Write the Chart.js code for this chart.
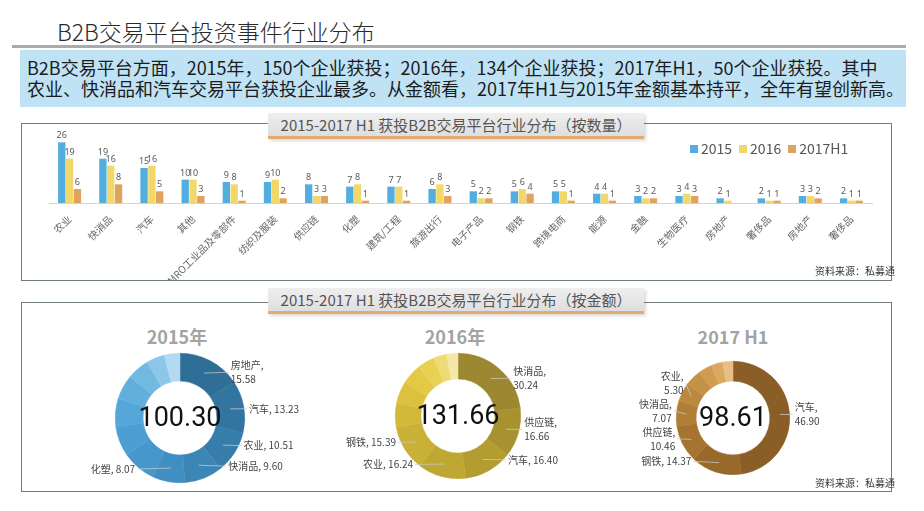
<!DOCTYPE html>
<html>
<head>
<meta charset="utf-8">
<script src="https://cdn.jsdelivr.net/npm/chart.js@4.4.0/dist/chart.umd.min.js"></script>
<style>
body { margin: 0; width: 924px; height: 511px; background: #fff; position: relative; overflow: hidden;
       font-family: "Noto Sans CJK SC", "Noto Sans", sans-serif; }
#title { position: absolute; left: 57px; top: 16px; font-size: 23px; font-weight: 300; line-height: 30px; color: #2a2a2a; }
#rule { position: absolute; left: 12px; top: 45px; width: 894px; height: 3px; background: #ababab; }
#intro { position: absolute; left: 20px; top: 50px; width: 879px; height: 50px; padding: 7px 0 0 7px;
         background: #bfe3f5; color: #1c1c1c; font-size: 18px; line-height: 21px; white-space: nowrap; }
.panel { position: absolute; left: 21px; width: 869px; border: 1px solid #6f7e7b; }
.tab { position: absolute; left: 268px; width: 376px; height: 23px; line-height: 23px; text-align: center;
       background: linear-gradient(#efefef, #dedede); border-bottom: 3px solid #e3aa72; color: #555;
       font-size: 15px; box-shadow: 2px 2px 3px rgba(0,0,0,0.15); }
.src { position: absolute; font-size: 10px; color: #333; }
.dtitle { position: absolute; width: 160px; text-align: center; font-size: 18px; font-weight: bold; color: #a3a3a3; }
#legend { position: absolute; left: 690px; top: 138px; font-size: 14px; color: #555; white-space: nowrap; }
#legend span { display: inline-block; margin-right: 7px; }
#legend i { display: inline-block; width: 8px; height: 8px; margin-right: 3px; vertical-align: 1px; }
canvas { position: absolute; }
</style>
</head>
<body>
<div id="title">B2B交易平台投资事件行业分布</div>
<div id="rule"></div>
<div id="intro">B2B交易平台方面，2015年，150个企业获投；2016年，134个企业获投；2017年H1，50个企业获投。其中<br>农业、快消品和汽车交易平台获投企业最多。从金额看，2017年H1与2015年金额基本持平，全年有望创新高。</div>

<div class="panel" style="top:123px;height:156px;"></div>
<div class="tab" style="top:113px;">2015-2017 H1 获投B2B交易平台行业分布（按数量）</div>
<canvas id="countChart" width="869" height="156" style="left:22px;top:124px;"></canvas>
<div id="legend"></div>
<div class="src" style="left:815px;top:263px;">资料来源：私募通</div>

<div class="panel" style="top:302px;height:188px;"></div>
<div class="tab" style="top:288px;">2015-2017 H1 获投B2B交易平台行业分布（按金额）</div>
<div class="dtitle" style="left:97px;top:323px;">2015年</div>
<div class="dtitle" style="left:375px;top:323px;">2016年</div>
<div class="dtitle" style="left:653px;top:323px;">2017 H1</div>
<canvas id="amount2015" width="280" height="156" style="left:40px;top:340px;"></canvas>
<canvas id="amount2016" width="280" height="156" style="left:318px;top:338px;"></canvas>
<canvas id="amount2017" width="280" height="156" style="left:593px;top:340px;"></canvas>
<div class="src" style="left:815px;top:475px;">资料来源：私募通</div>

<script>
// ---------- number of deals per industry ----------
const categories = ['农业', '快消品', '汽车', '其他', 'MRO工业品及零部件', '纺织及服装', '供应链', '化塑',
    '建筑/工程', '旅游出行', '电子产品', '钢铁', '跨境电商', '能源', '金融', '生物医疗', '房地产', '奢侈品', '房地产', '奢侈品'];
const seriesNames = ['2015', '2016', '2017H1'];
const count2015 = [26, 19, 15, 10, 9, 9, 8, 7, 7, 6, 5, 5, 5, 4, 3, 3, 2, 2, 3, 2];
const count2016 = [19, 16, 16, 10, 8, 10, 3, 8, 7, 8, 2, 6, 5, 4, 2, 4, 1, 1, 3, 1];
const count2017H1 = [6, 8, 5, 3, 1, 2, 3, 1, 1, 3, 2, 4, 1, 1, 2, 3, null, 1, 2, 1];

// ---------- amount per industry (unnamed slices = other industries) ----------
const amountLabels2015 = ['房地产', '汽车', '农业', '快消品', '化塑', '', '', '', '', '', '', ''];
const amount2015 = [15.58, 13.23, 10.51, 9.60, 8.07, 8.5, 7.6, 7.0, 6.2, 5.5, 4.6, 3.91];
const amountLabels2016 = ['快消品', '供应链', '汽车', '农业', '钢铁', '', '', '', '', '', ''];
const amount2016 = [30.24, 16.66, 16.40, 16.24, 15.39, 8.2, 7.5, 6.8, 5.9, 4.5, 3.83];
const amountLabels2017 = ['汽车', '钢铁', '供应链', '快消品', '农业', '', '', '', ''];
const amount2017 = [46.90, 14.37, 10.46, 7.07, 5.30, 4.6, 3.8, 3.2, 2.91];
const totals = ['100.30', '131.66', '98.61'];

const barColors = ['#52aedf', '#f2d86a', '#e0a35e'];
const blues = ['#2f6e96', '#3275a0', '#377daa', '#3c86b6', '#418fc2', '#4697cb', '#4c9fd3', '#55a7d9',
    '#61afdd', '#72b9e2', '#8cc6e9', '#b3daf1'];
const golds = ['#9c8830', '#a8922f', '#b39c30', '#bfa733', '#c9b036', '#d3b93a', '#dcc13e', '#e3c944',
    '#e9d153', '#eedb78', '#f4e7a8'];
const browns = ['#8a5e26', '#98692b', '#a57430', '#b07e36', '#bb883d', '#c59245', '#d09c50', '#dba862', '#e8bd86'];

// values on top of the bars
const barValueLabels = {
    id: 'barValueLabels',
    afterDatasetsDraw(chart) {
        const ctx = chart.ctx;
        ctx.save();
        ctx.font = '9px "Noto Sans", sans-serif';
        ctx.fillStyle = '#595959';
        ctx.textAlign = 'center';
        ctx.textBaseline = 'bottom';
        chart.data.datasets.forEach((ds, i) => {
            chart.getDatasetMeta(i).data.forEach((bar, j) => {
                if (ds.data[j] == null) return;
                ctx.fillText(ds.data[j], bar.x, bar.y - 2);
            });
        });
        ctx.restore();
    }
};

new Chart(document.getElementById('countChart'), {
    type: 'bar',
    data: {
        labels: categories,
        datasets: [count2015, count2016, count2017H1].map((d, i) => ({
            label: seriesNames[i],
            data: d,
            backgroundColor: barColors[i],
            categoryPercentage: 0.57,
            barPercentage: 0.94
        }))
    },
    options: {
        responsive: false,
        animation: false,
        layout: { padding: { left: 27, right: 19, top: 9, bottom: 0 } },
        plugins: { legend: { display: false }, tooltip: { enabled: false } },
        scales: {
            x: {
                grid: { display: false },
                border: { color: '#d3d3d3' },
                ticks: { autoSkip: false, minRotation: 45, maxRotation: 45, padding: 2,
                         color: '#666', font: { size: 10, family: '"Noto Sans CJK SC", sans-serif' } },
                afterFit(scale) { scale.height = 77; }
            },
            y: { display: false, min: 0, max: 30 }
        }
    },
    plugins: [barValueLabels]
});

// html legend
document.getElementById('legend').innerHTML = seriesNames.map((n, i) =>
    `<span><i style="background:${barColors[i]}"></i>${n}</span>`).join('');

// labels round the doughnuts + total in the hole
const donutLabels = {
    id: 'donutLabels',
    afterDatasetsDraw(chart, args, opts) {
        const ctx = chart.ctx;
        const arcs = chart.getDatasetMeta(0).data;
        const values = chart.data.datasets[0].data;
        const items = [];
        arcs.forEach((arc, i) => {
            const name = chart.data.labels[i];
            if (!name) return;
            const mid = (arc.startAngle + arc.endAngle) / 2;
            const wrap = opts.wrap.includes(name);
            items.push({ arc, name, mid, wrap, h: wrap ? 26 : 13,
                         right: Math.cos(mid) >= 0, y: arc.y + Math.sin(mid) * arc.outerRadius * 0.8,
                         val: values[i].toFixed(2) });
        });
        // keep labels on one side from overlapping (push upwards from the bottom one)
        [true, false].forEach(side => {
            const list = items.filter(it => it.right === side).sort((a, b) => b.y - a.y);
            for (let k = 1; k < list.length; k++) {
                const lim = list[k - 1].y - (list[k - 1].h + list[k].h) / 2 - 2;
                if (list[k].y > lim) list[k].y = lim;
            }
        });
        ctx.save();
        ctx.font = '10px "Noto Sans CJK SC", sans-serif';
        ctx.fillStyle = '#444';
        ctx.strokeStyle = 'rgba(205,205,205,0.9)';
        ctx.lineWidth = 0.8;
        ctx.textBaseline = 'middle';
        items.forEach(it => {
            const a = it.arc, R = a.outerRadius;
            const dy = Math.max(-R, Math.min(R, it.y - a.y));
            const half = Math.sqrt(R * R - dy * dy);
            const x = it.right ? a.x + half + 5 : a.x - half - 5;
            const rIn = (a.innerRadius + R) / 2;
            ctx.beginPath();
            ctx.moveTo(a.x + Math.cos(it.mid) * rIn, a.y + Math.sin(it.mid) * rIn);
            ctx.lineTo(it.right ? x - 2 : x + 2, it.y);
            ctx.stroke();
            ctx.textAlign = it.right ? 'left' : 'right';
            if (it.wrap) {
                ctx.fillText(it.name + ',', x, it.y - 7);
                ctx.fillText(it.val, x, it.y + 7);
            } else {
                ctx.fillText(it.name + ', ' + it.val, x, it.y);
            }
        });
        const a = arcs[0];
        ctx.font = '27px Roboto, sans-serif';
        ctx.fillStyle = '#111';
        ctx.textAlign = 'center';
        ctx.fillText(opts.total, a.x, a.y + 1);
        ctx.restore();
    }
};

function makeDonut(id, labels, values, colors, cutout, padY, total, wrap) {
    return new Chart(document.getElementById(id), {
        type: 'doughnut',
        data: {
            labels: labels,
            datasets: [{ data: values, backgroundColor: colors, borderColor: colors, borderWidth: 0.5 }]
        },
        options: {
            responsive: false,
            animation: false,
            cutout: cutout,
            layout: { padding: { top: padY, bottom: padY } },
            plugins: {
                legend: { display: false },
                tooltip: { enabled: false },
                donutLabels: { total: total, wrap: wrap }
            }
        },
        plugins: [donutLabels]
    });
}

makeDonut('amount2015', amountLabels2015, amount2015, blues, '57%', 13, totals[0], ['房地产']);
makeDonut('amount2016', amountLabels2016, amount2016, golds, '59%', 15, totals[1], ['快消品', '供应链']);
makeDonut('amount2017', amountLabels2017, amount2017, browns, '65%', 21, totals[2], ['汽车', '农业', '快消品', '供应链']);
</script>
</body>
</html>
